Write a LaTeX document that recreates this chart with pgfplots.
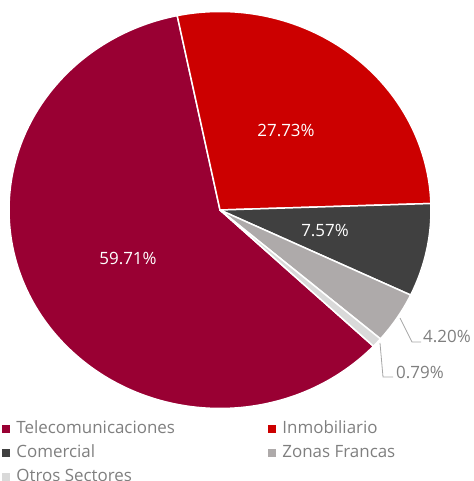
\documentclass[border=0pt]{standalone}
\usepackage{fontspec}
\setmainfont{Open Sans}
\usepackage{pgfplots}
\pgfplotsset{compat=1.18}

\definecolor{telecom}{HTML}{990033}
\definecolor{inmob}{HTML}{CC0000}
\definecolor{comercial}{HTML}{404040}
\definecolor{zonas}{HTML}{AEAAAA}
\definecolor{otros}{HTML}{D9D9D9}
\definecolor{txtgray}{HTML}{7F7F7F}
\definecolor{leadgray}{HTML}{A6A6A6}

% start angle of the first slice, slices run clockwise
\xdef\curang{316.66}

\begin{document}
\begin{tikzpicture}
\begin{axis}[
    at={(0,0)}, anchor=south west,
    width=474bp, height=481bp, scale only axis,
    xmin=0, xmax=474, ymin=0, ymax=481,
    hide axis, clip=false,
    legend columns=2,
    legend cell align=left,
    legend image code/.code={\fill[#1] (0bp,-3.5bp) rectangle (7bp,3.5bp);},
    legend style={
        at={(axis cs:2,60)}, anchor=north west,
        draw=none, fill=none, inner sep=0pt, outer sep=0pt,
        font=\fontsize{17}{20}\selectfont, text=txtgray,
        row sep=8bp,
        nodes={inner sep=0pt, text height=12bp, text depth=4bp},
        /tikz/every odd column/.append style={column sep=7bp},
        /tikz/every even column/.append style={column sep=93bp},
    },
]
\addlegendimage{telecom}\addlegendentry{Telecomunicaciones}
\addlegendimage{inmob}\addlegendentry{Inmobiliario}
\addlegendimage{comercial}\addlegendentry{Comercial}
\addlegendimage{zonas}\addlegendentry{Zonas Francas}
\addlegendimage{otros}\addlegendentry{Otros Sectores}

\foreach \v/\col in {59.71/telecom, 27.73/inmob, 7.57/comercial, 4.20/zonas, 0.79/otros}{
    \pgfmathsetmacro\endang{\curang-3.6*\v}
    \edef\temp{\noexpand\fill[\col, draw=white, line width=1.5bp, line join=round]
        (axis cs:220,271) -- ++(\curang:211bp and 198.5bp)
        arc[start angle=\curang, end angle=\endang, x radius=211bp, y radius=198.5bp] -- cycle;}
    \temp
    \xdef\curang{\endang}
}

\begin{scope}[font=\fontsize{17}{20}\selectfont]
\node[white] at (axis cs:128,223) {59.71\%};
\node[white] at (axis cs:286,351) {27.73\%};
\node[white] at (axis cs:325,251) {7.57\%};
\draw[leadgray, line width=0.8bp] (axis cs:400,163) -- (axis cs:412,139) -- (axis cs:421,139);
\draw[leadgray, line width=0.8bp] (axis cs:380,138) -- (axis cs:383,104) -- (axis cs:393,104);
\node[txtgray, anchor=west, inner sep=0pt] at (axis cs:423,145) {4.20\%};
\node[txtgray, anchor=west, inner sep=0pt] at (axis cs:396,109) {0.79\%};
\end{scope}
\end{axis}
\pgfresetboundingbox
\path[use as bounding box] (0,0) rectangle (474bp,481bp);
\end{tikzpicture}
\end{document}
